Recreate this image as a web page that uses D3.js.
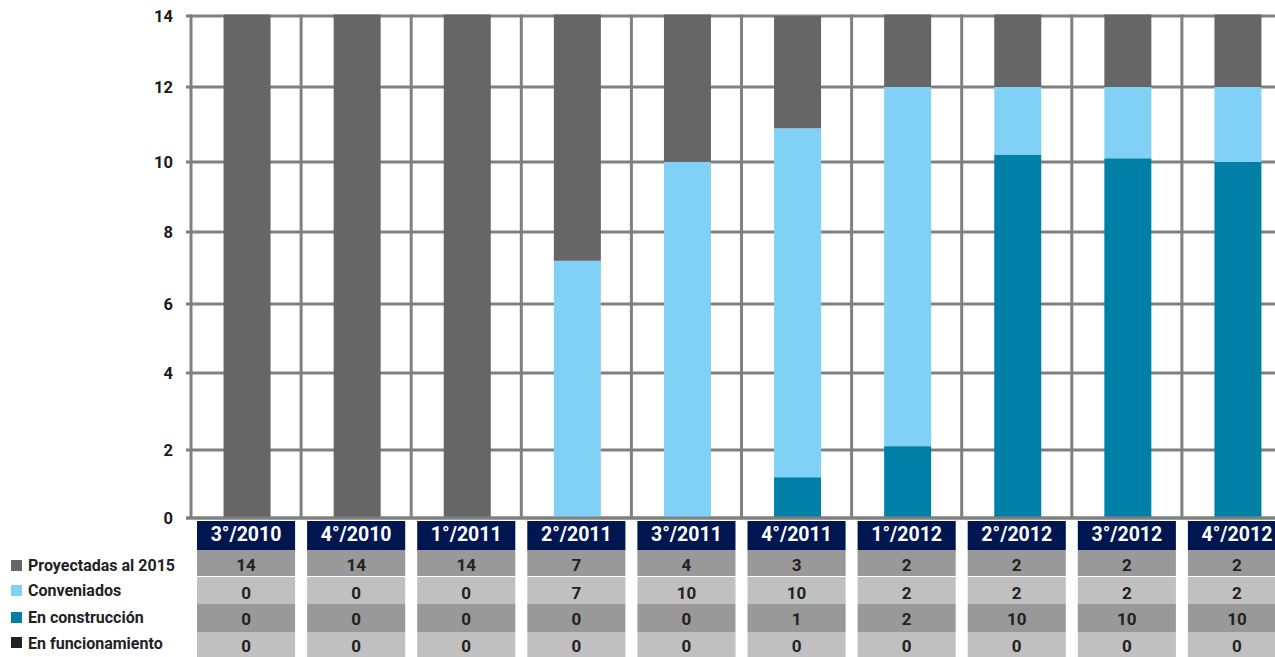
<!DOCTYPE html>
<html>
<head>
<meta charset="utf-8">
<script src="https://cdn.jsdelivr.net/npm/d3@7"></script>
<style>
  body { margin: 0; background: #fff; }
  svg { display: block; font-family: Roboto, "Liberation Sans", sans-serif; font-weight: 700; }
</style>
</head>
<body>
<svg id="chart" width="1275" height="657"></svg>
<script>
const periods = ['3°/2010', '4°/2010', '1°/2011', '2°/2011', '3°/2011', '4°/2011', '1°/2012', '2°/2012', '3°/2012', '4°/2012'];

// table values (as printed under the chart)
const tableProyectadas = [14, 14, 14, 7, 4, 3, 2, 2, 2, 2];
const tableConveniados = [0, 0, 0, 7, 10, 10, 2, 2, 2, 2];
const tableConstruccion = [0, 0, 0, 0, 0, 1, 2, 10, 10, 10];
const tableFuncionamiento = [0, 0, 0, 0, 0, 0, 0, 0, 0, 0];

// bar segments as drawn in the chart
const barProyectadas = [14, 14, 14, 6.8, 4, 3.1, 2, 2, 2, 2];
const barConveniados = [0, 0, 0, 7.2, 10, 9.7, 9.9, 1.8, 1.9, 2];
const barConstruccion = [0, 0, 0, 0, 0, 1.2, 2.1, 10.2, 10.1, 10];
const barFuncionamiento = [0, 0, 0, 0, 0, 0, 0, 0, 0, 0];

const yTicks = [0, 2, 4, 6, 8, 10, 12, 14];

// legend / table order (top to bottom)
const series = [
  { key: 'proy', label: 'Proyectadas al 2015', table: tableProyectadas, bars: barProyectadas, color: '#666666' },
  { key: 'conv', label: 'Conveniados', table: tableConveniados, bars: barConveniados, color: '#80d1f5' },
  { key: 'cons', label: 'En construcción', table: tableConstruccion, bars: barConstruccion, color: '#0080a6' },
  { key: 'func', label: 'En funcionamiento', table: tableFuncionamiento, bars: barFuncionamiento, color: '#222222' }
];

const svg = d3.select('#chart');

const x = d3.scaleBand()
  .domain(periods)
  .range([191, 1292]);

// the printed grid is not evenly spaced, so map each tick to its line
const y = d3.scaleLinear()
  .domain(yTicks)
  .range([518, 450, 373, 304, 232, 162, 87, 16]);

const rows = periods.map((p, i) => {
  let r = { period: p };
  series.forEach((s) => { r[s.key] = s.bars[i]; });
  return r;
});

// stacked from bottom: funcionamiento, construcción, conveniados, proyectadas
const stacked = d3.stack().keys(['func', 'cons', 'conv', 'proy'])(rows);
const colorOf = {};
series.forEach((s) => { colorOf[s.key] = s.color; });

// grid
let grid = svg.append('g').classed('grid', true);

grid.selectAll('line.h')
  .data(yTicks)
  .join('line')
  .classed('h', true)
  .attr('x1', 186)
  .attr('x2', 1275)
  .attr('y1', (d) => y(d))
  .attr('y2', (d) => y(d))
  .attr('stroke', '#808080')
  .attr('stroke-width', 3);

grid.selectAll('line.v')
  .data(periods)
  .join('line')
  .classed('v', true)
  .attr('x1', (d) => x(d))
  .attr('x2', (d) => x(d))
  .attr('y1', y(14) - 1.5)
  .attr('y2', y(0))
  .attr('stroke', '#808080')
  .attr('stroke-width', 3);

// bars
const barW = 47;

svg.append('g')
  .selectAll('g')
  .data(stacked)
  .join('g')
  .attr('fill', (d) => colorOf[d.key])
  .selectAll('rect')
  .data((d) => d)
  .join('rect')
  .attr('x', (d) => x(d.data.period) + (x.bandwidth() - barW) / 2 + 1)
  .attr('width', barW)
  .attr('y', (d) => y(d[1]) - (d[1] === 14 ? 1.5 : 0))
  .attr('height', (d) => Math.max(0, y(d[0]) - y(d[1]) + (d[1] === 14 ? 1.5 : 0)));

// axis line at 0 over the bars
svg.append('line')
  .attr('x1', 186)
  .attr('x2', 1275)
  .attr('y1', y(0))
  .attr('y2', y(0))
  .attr('stroke', '#808080')
  .attr('stroke-width', 3);

// y labels
svg.append('g')
  .selectAll('text')
  .data(yTicks)
  .join('text')
  .attr('x', 173)
  .attr('y', (d) => y(d) + 6)
  .attr('text-anchor', 'end')
  .attr('font-size', 16.5)
  .attr('fill', '#1a1a1a')
  .text((d) => d);

// table
const cellX = (p) => x(p) + 6;
const cellW = x.bandwidth() - 12;
const headerTop = 521;
const headerH = 29;
const rowTops = [550, 577, 604, 632];
const rowHs = [26, 27, 28, 25];
const rowFills = ['#999999', '#c0c0c0', '#999999', '#c0c0c0'];
const rowBaselines = [571, 599, 625, 652];
const swatchTops = [560, 585, 612, 637];
const labelBaselines = [571, 596, 623, 649];

let header = svg.append('g').classed('header', true);

header.selectAll('rect')
  .data(periods)
  .join('rect')
  .attr('x', (d) => cellX(d))
  .attr('y', headerTop)
  .attr('width', cellW)
  .attr('height', headerH)
  .attr('fill', '#001650');

header.selectAll('text')
  .data(periods)
  .join('text')
  .attr('x', (d) => cellX(d) + cellW / 2)
  .attr('y', 541)
  .attr('text-anchor', 'middle')
  .attr('font-size', 19.5)
  .attr('fill', '#ffffff')
  .text((d) => d);

series.forEach((s, r) => {
  let row = svg.append('g').classed('row-' + s.key, true);

  row.selectAll('rect')
    .data(periods)
    .join('rect')
    .attr('x', (d) => cellX(d))
    .attr('y', rowTops[r])
    .attr('width', cellW)
    .attr('height', rowHs[r])
    .attr('fill', rowFills[r]);

  row.selectAll('text')
    .data(s.table)
    .join('text')
    .attr('x', (d, i) => cellX(periods[i]) + cellW / 2)
    .attr('y', rowBaselines[r])
    .attr('text-anchor', 'middle')
    .attr('font-size', 17)
    .attr('fill', '#222222')
    .text((d) => d);

  // legend
  row.append('rect')
    .attr('x', 11)
    .attr('y', swatchTops[r])
    .attr('width', 11)
    .attr('height', 11)
    .attr('fill', s.color);

  row.append('text')
    .attr('x', 28)
    .attr('y', labelBaselines[r])
    .attr('font-size', 16)
    .attr('fill', '#222222')
    .text(s.label);
});

// white line between first and second table rows
svg.append('line')
  .attr('x1', 191)
  .attr('x2', 1275)
  .attr('y1', 576.5)
  .attr('y2', 576.5)
  .attr('stroke', '#ffffff')
  .attr('stroke-width', 1);
</script>
</body>
</html>
